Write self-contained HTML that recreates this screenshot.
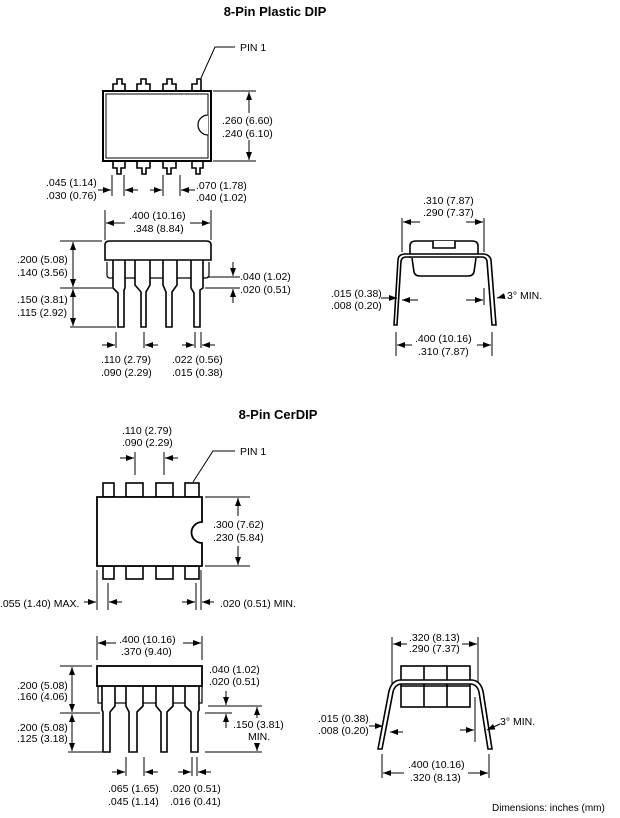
<!DOCTYPE html>
<html><head><style>
html,body{margin:0;padding:0;background:#fff}
svg{display:block}
text{font-family:"Liberation Sans",sans-serif;font-size:10.5px;fill:#000}
.t{font-weight:bold;font-size:13px}
.k{stroke:#000;fill:none;stroke-width:1}
.b{stroke:#000;fill:#fff;stroke-width:1.6}
</style></head><body>
<svg width="620" height="818" viewBox="0 0 620 818" xmlns="http://www.w3.org/2000/svg">
<defs><marker id="a" markerWidth="8" markerHeight="6" refX="8" refY="3" orient="auto" markerUnits="userSpaceOnUse"><path d="M0,0 L8,3 L0,6 z" fill="#000"/></marker></defs>
<text class="t" x="275" y="16" text-anchor="middle">8-Pin Plastic DIP</text>
<g class="b">
<path d="M113,91 V84 H117 V79 H122 V84 H125 V91"/><path d="M137,91 V84 H141 V79 H146 V84 H150 V91"/><path d="M163,91 V84 H167 V79 H172 V84 H176 V91"/><path d="M192,91 V84 H197 V79 H201 V91"/>
<path d="M113,161 V168 H117 V174 H121 V168 H125 V161"/><path d="M137,161 V168 H142 V174 H146 V168 H150 V161"/><path d="M163,161 V168 H167 V174 H171 V168 H176 V161"/><path d="M192,161 V168 H196 V174 H200 V168 H203 V161"/>
<rect x="103" y="91" width="108" height="70" stroke-width="2"/>
<rect x="106" y="94" width="102" height="64" stroke-width="1"/>
<path d="M208,115 A10,10 0 0 0 208,135" stroke-width="1.2"/>
</g>
<path class="k" d="M201,78 L215,47 H235"/><text x="240" y="51">PIN 1</text>
<path class="k" d="M213,91 H256 M213,161 H256"/>
<path class="k" d="M249,113 V92" marker-end="url(#a)"/><path class="k" d="M249,140 V160" marker-end="url(#a)"/>
<text x="222" y="124">.260 (6.60)</text><text x="222" y="137">.240 (6.10)</text>
<path class="k" d="M112,175 V196 M124,175 V196 M163,175 V196 M180,175 V196"/>
<path class="k" d="M98,190 H111" marker-end="url(#a)"/><path class="k" d="M138,190 H125" marker-end="url(#a)"/>
<path class="k" d="M150,190 H162" marker-end="url(#a)"/><path class="k" d="M195,190 H181" marker-end="url(#a)"/>
<text x="46" y="186">.045 (1.14)</text><text x="46" y="199">.030 (0.76)</text>
<text x="196" y="189">.070 (1.78)</text><text x="196" y="201">.040 (1.02)</text>
<path class="k" d="M105,210 V240 M211,210 V240"/>
<path class="k" d="M125,223 H106" marker-end="url(#a)"/><path class="k" d="M190,223 H210" marker-end="url(#a)"/>
<text x="129" y="219">.400 (10.16)</text><text x="133" y="232">.348 (8.84)</text>
<g class="b">
<path d="M107,262 V275 Q107,278 110,278 H206 Q209,278 209,275 V262" stroke-width="1.2"/>
<path d="M113,258 V288 L118,293 V327 H124 V290 L125,288 V258 Z"/>
<path d="M135,258 V285 L141,292 V327 H146 V292 L150,285 V258 Z"/>
<path d="M163,258 V285 L166,292 V327 H172 V292 L177,285 V258 Z"/>
<path d="M191,258 V288 L194,293 V327 H200 V290 L203,288 V258 Z"/>
<path d="M105,260 V245 Q105,241 110,241 H206 Q211,241 211,245 V260 Z"/>
</g>
<path class="k" d="M60,241 H102 M60,288 H112 M70,327 H116"/>
<path class="k" d="M73,265 V242" marker-end="url(#a)"/><path class="k" d="M73,265 V287" marker-end="url(#a)"/>
<path class="k" d="M73,305 V289" marker-end="url(#a)"/><path class="k" d="M73,305 V326" marker-end="url(#a)"/>
<text x="17" y="263">.200 (5.08)</text><text x="17" y="276">.140 (3.56)</text>
<text x="17" y="303">.150 (3.81)</text><text x="17" y="316">.115 (2.92)</text>
<path class="k" d="M207,277 H240 M205,288 H240"/>
<path class="k" d="M233,262 V276" marker-end="url(#a)"/><path class="k" d="M233,303 V289" marker-end="url(#a)"/>
<text x="240" y="280">.040 (1.02)</text><text x="240" y="293">.020 (0.51)</text>
<path class="k" d="M116,332 V348 M144,332 V348 M195,332 V348 M201,332 V348"/>
<path class="k" d="M102,345 H115" marker-end="url(#a)"/><path class="k" d="M158,345 H145" marker-end="url(#a)"/>
<path class="k" d="M182,345 H194" marker-end="url(#a)"/><path class="k" d="M215,345 H202" marker-end="url(#a)"/>
<text x="101" y="363">.110 (2.79)</text><text x="101" y="376">.090 (2.29)</text>
<text x="172" y="363">.022 (0.56)</text><text x="172" y="376">.015 (0.38)</text>
<text x="423" y="204">.310 (7.87)</text><text x="423" y="216">.290 (7.37)</text>
<path class="k" d="M402,218 V252 M484,218 V252"/>
<path class="k" d="M420,222 H403" marker-end="url(#a)"/><path class="k" d="M466,222 H483" marker-end="url(#a)"/>
<g class="b" stroke-width="1.3">
<path d="M410,258 V246 Q410,241 416,241 H472 Q478,241 478,246 V258 M412,258 L414,272 Q415,276 420,276 H468 Q473,276 474,272 L476,258"/>
<path d="M433,241 V248 H455 V241"/>
<path d="M397,325 L401,261 Q402,257 406,257 H482 Q486,257 487,261 L492,325 H496 L491,260 Q490,255 484,254 H404 Q398,255 398,260 L394,325 Z"/>
</g>
<path class="k" d="M381,298 H397" marker-end="url(#a)"/><path class="k" d="M418,300 H402" marker-end="url(#a)"/>
<path class="k" d="M484,288 V305"/><path class="k" d="M466,300 H483" marker-end="url(#a)"/><path class="k" d="M505,296 L497,298" marker-end="url(#a)"/>
<text x="331" y="297">.015 (0.38)</text><text x="331" y="309">.008 (0.20)</text>
<text x="507" y="299">3° MIN.</text>
<path class="k" d="M396,332 V356 M492,332 V356"/>
<path class="k" d="M412,345 H397" marker-end="url(#a)"/><path class="k" d="M477,345 H491" marker-end="url(#a)"/>
<text x="415" y="342">.400 (10.16)</text><text x="418" y="355">.310 (7.87)</text>
<text class="t" x="278" y="419" text-anchor="middle">8-Pin CerDIP</text>
<text x="122" y="434">.110 (2.79)</text><text x="122" y="446">.090 (2.29)</text>
<path class="k" d="M135,452 V475 M164,452 V475"/>
<path class="k" d="M120,458 H134" marker-end="url(#a)"/><path class="k" d="M178,458 H165" marker-end="url(#a)"/>
<path class="k" d="M193,482 L213,451 H235"/><text x="240" y="455">PIN 1</text>
<g class="b">
<rect x="103" y="483" width="11" height="14"/><rect x="126" y="483" width="17" height="14"/><rect x="156" y="483" width="17" height="14"/><rect x="185" y="483" width="14" height="14"/>
<rect x="103" y="566" width="11" height="13"/><rect x="126" y="566" width="17" height="13"/><rect x="156" y="566" width="17" height="13"/><rect x="185" y="566" width="14" height="13"/>
<path d="M97,497 H202 V522 A10,10 0 0 0 202,543 V566 H97 Z" stroke-width="1.8"/>
</g>
<path class="k" d="M205,497 H250 M205,566 H250"/>
<path class="k" d="M238,516 V498" marker-end="url(#a)"/><path class="k" d="M238,546 V565" marker-end="url(#a)"/>
<text x="213" y="528">.300 (7.62)</text><text x="213" y="541">.230 (5.84)</text>
<path class="k" d="M97,570 V610 M108,583 V610 M196,583 V610 M201,570 V610"/>
<path class="k" d="M84,602 H96" marker-end="url(#a)"/><path class="k" d="M122,602 H109" marker-end="url(#a)"/>
<path class="k" d="M182,602 H195" marker-end="url(#a)"/><path class="k" d="M214,602 H202" marker-end="url(#a)"/>
<text x="0" y="607">.055 (1.40) MAX.</text><text x="220" y="607">.020 (0.51) MIN.</text>
<path class="k" d="M97,636 V660 M202,636 V660"/>
<path class="k" d="M116,643 H98" marker-end="url(#a)"/><path class="k" d="M183,643 H201" marker-end="url(#a)"/>
<text x="119" y="643">.400 (10.16)</text><text x="121" y="655">.370 (9.40)</text>
<g class="b">
<rect x="98" y="686" width="104" height="17" stroke-width="1.2"/>
<path d="M102,684 V710 L103,712 V752 H110 V712 L115,706 V684 Z"/>
<path d="M126,684 V706 L129,712 V752 H137 V712 L143,706 V684 Z"/>
<path d="M156,684 V706 L161,712 V752 H167 V712 L173,706 V684 Z"/>
<path d="M185,684 V706 L191,712 V752 H198 V712 L199,710 V684 Z"/>
<rect x="97" y="666" width="105" height="20" stroke-width="1.8"/>
</g>
<path class="k" d="M60,666 H92 M60,713 H100 M68,752 H102"/>
<path class="k" d="M72,690 V667" marker-end="url(#a)"/><path class="k" d="M72,690 V712" marker-end="url(#a)"/>
<path class="k" d="M72,732 V714" marker-end="url(#a)"/><path class="k" d="M72,732 V751" marker-end="url(#a)"/>
<text x="17" y="689">.200 (5.08)</text><text x="17" y="700">.160 (4.06)</text>
<text x="17" y="731">.200 (5.08)</text><text x="17" y="742">.125 (3.18)</text>
<text x="209" y="673">.040 (1.02)</text><text x="209" y="685">.020 (0.51)</text>
<path class="k" d="M208,706 H262 M205,713 H232 M205,752 H262"/>
<path class="k" d="M226,691 V705" marker-end="url(#a)"/><path class="k" d="M226,728 V714" marker-end="url(#a)"/>
<path class="k" d="M257,718 V707" marker-end="url(#a)"/><path class="k" d="M257,745 V751" marker-end="url(#a)"/>
<text x="233" y="728">.150 (3.81)</text><text x="248" y="740">MIN.</text>
<path class="k" d="M126,757 V776 M144,757 V776 M192,757 V776 M197,757 V776"/>
<path class="k" d="M112,772 H125" marker-end="url(#a)"/><path class="k" d="M158,772 H145" marker-end="url(#a)"/>
<path class="k" d="M178,772 H191" marker-end="url(#a)"/><path class="k" d="M211,772 H198" marker-end="url(#a)"/>
<text x="108" y="792">.065 (1.65)</text><text x="108" y="805">.045 (1.14)</text>
<text x="170" y="792">.020 (0.51)</text><text x="170" y="805">.016 (0.41)</text>
<text x="409" y="641">.320 (8.13)</text><text x="409" y="652">.290 (7.37)</text>
<path class="k" d="M392,637 V684 M478,637 V684"/>
<path class="k" d="M407,644 H393" marker-end="url(#a)"/><path class="k" d="M462,644 H477" marker-end="url(#a)"/>
<g class="b" stroke-width="1.3">
<rect x="401" y="666" width="69" height="41"/>
<path d="M424,666 V707 M447,666 V707 M401,686 H470"/>
<path d="M382,749 L393,692 Q395,684 402,684 H470 Q477,684 479,692 L488,749 H492 L483,691 Q480,680 471,680 H401 Q392,680 389,691 L378,749 Z"/>
</g>
<path class="k" d="M369,726 H383" marker-end="url(#a)"/><path class="k" d="M403,732 H390" marker-end="url(#a)"/>
<path class="k" d="M475,697 V742"/><path class="k" d="M460,730 H474" marker-end="url(#a)"/><path class="k" d="M500,724 L487,730" marker-end="url(#a)"/>
<text x="318" y="722">.015 (0.38)</text><text x="318" y="734">.008 (0.20)</text>
<text x="500" y="725">3° MIN.</text>
<path class="k" d="M382,754 V778 M489,754 V778"/>
<path class="k" d="M404,773 H383" marker-end="url(#a)"/><path class="k" d="M468,773 H488" marker-end="url(#a)"/>
<text x="408" y="768">.400 (10.16)</text><text x="410" y="781">.320 (8.13)</text>
<text x="492" y="811" style="font-size:10px">Dimensions:  inches (mm)</text>
</svg>
</body></html>
